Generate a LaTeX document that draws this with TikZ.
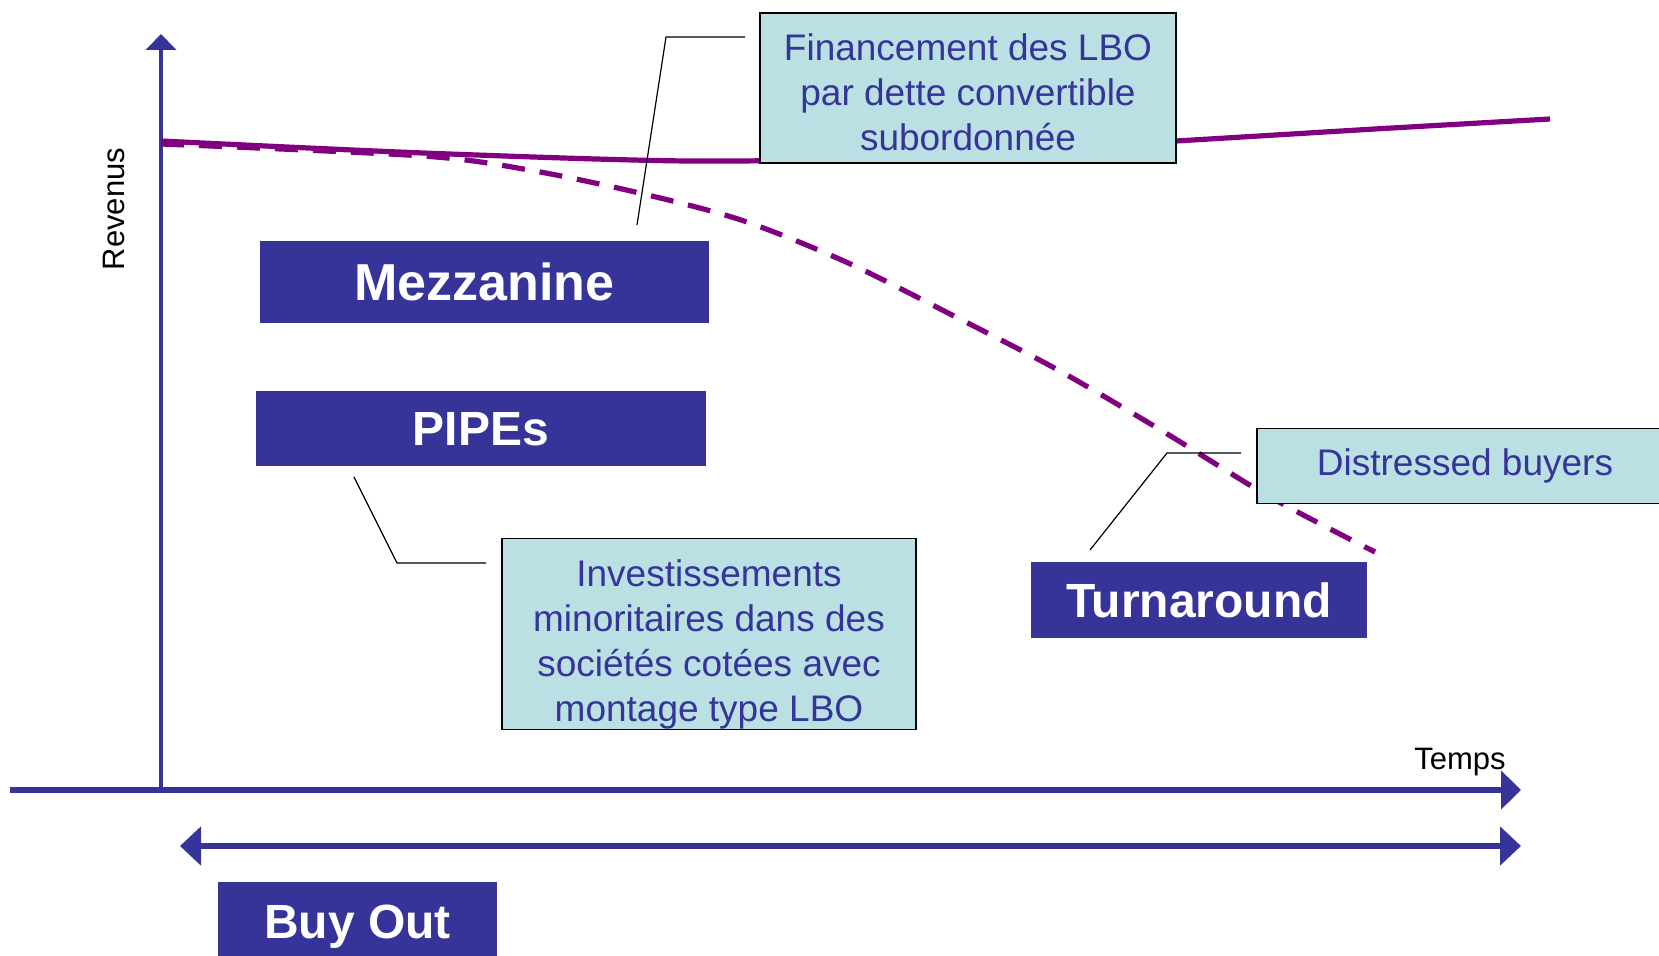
\documentclass[tikz,border=0pt]{standalone}
\usepackage{fontspec}
\setmainfont{Liberation Sans}
\usepackage{xcolor}
\usetikzlibrary{arrows.meta}
\definecolor{bandblue}{RGB}{54,52,152}
\definecolor{notecyan}{RGB}{187,224,227}
\definecolor{curvepurple}{RGB}{128,0,128}

\begin{document}
\begin{tikzpicture}[x=0.5pt,y=-0.5pt,
 band/.style={fill=bandblue,text=white,inner sep=0pt,minimum height=37.5pt,font=\fontsize{24}{28}\selectfont\bfseries},
 note/.style={draw,line width=0.8pt,fill=notecyan,text=bandblue,inner sep=0pt,align=center,font=\fontsize{18.5}{22.5}\selectfont},
 callout/.style={draw,line width=0.6pt},
 revenue/.style={draw=curvepurple,line width=2.6pt}]
\useasboundingbox (0,0) rectangle (1659,956);
% axes
\coordinate (origin) at (161,790);
\coordinate (ytop) at (161,34);
\coordinate (xleft) at (10,790);
\coordinate (xright) at (1521,790);
\coordinate (spanL) at (180,846);
\coordinate (spanR) at (1521,846);
\draw[draw=bandblue,line width=2.6pt,-{Triangle[length=10pt,width=19pt]}] (xleft) -- (xright);
\draw[draw=bandblue,line width=2.2pt,-{Triangle[length=8pt,width=15pt]}] (origin) -- (ytop);
\draw[draw=bandblue,line width=3pt,{Triangle[length=10.5pt,width=19pt]}-{Triangle[length=10.5pt,width=19pt]}] (spanL) -- (spanR);
\node[font=\fontsize{15.5}{18}\selectfont] (temps) at (1460,762) {Temps};
\node[font=\fontsize{15.5}{18}\selectfont,rotate=90] (revenus) at (114,209) {Revenus};
% curves
\draw[revenue] plot[smooth] coordinates {(161,141) (423,153) (688,161) (900,157) (1176,141) (1375,129) (1550,119)};
\draw[revenue,dash pattern=on 11.5pt off 7.5pt] plot[smooth] coordinates {(161,144) (423,156) (529,170) (635,192) (741,220) (846,262) (952,315) (1058,370) (1164,432) (1270,497) (1375,552)};
% boxes
\node[band,minimum width=224.5pt,minimum height=41pt,font=\fontsize{26}{30}\selectfont\bfseries] (mezz) at (484.5,282) {Mezzanine};
\node[band,minimum width=225pt] (pipes) at (481,429) {PIPEs};
\node[band,minimum width=168pt] (turn) at (1199,600) {Turnaround};
\node[band,minimum width=139.5pt,minimum height=45pt] (buyout) at (357.5,927) {Buy Out};
\node[note,minimum width=207.75pt,minimum height=75pt] (lbo) at (968,88) {\rule{0pt}{17.2pt}Financement des LBO\\par dette convertible\\subordonnée};
\node[note,minimum width=208pt,minimum height=37.5pt] (distr) at (1465,466) {Distressed buyers};
\node[note,minimum width=207pt,minimum height=94pt] (invest) at (709,634) {\rule{0pt}{24pt}Investissements\\minoritaires dans des\\sociétés cotées avec\\montage type LBO};
% callouts
\coordinate (lboA) at (745,37);
\coordinate (lboB) at (666,37);
\coordinate (lboC) at (637,225);
\coordinate (pipA) at (354,477);
\coordinate (pipB) at (397,563);
\coordinate (pipC) at (486,563);
\coordinate (disA) at (1241,453);
\coordinate (disB) at (1167,453);
\coordinate (disC) at (1090,550);
\draw[callout] (lboA) -- (lboB) -- (lboC);
\draw[callout] (pipA) -- (pipB) -- (pipC);
\draw[callout] (disA) -- (disB) -- (disC);
\end{tikzpicture}
\end{document}
